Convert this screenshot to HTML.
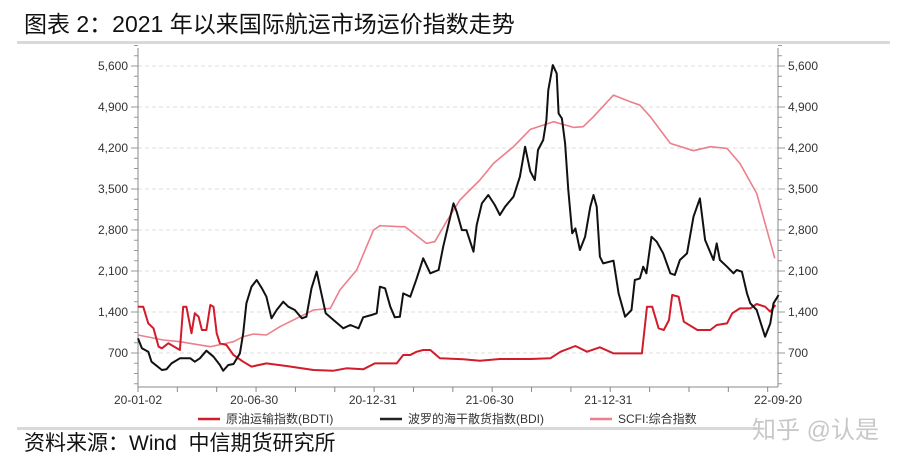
<!DOCTYPE html>
<html><head><meta charset="utf-8">
<style>
html,body{margin:0;padding:0;background:#fff;width:915px;height:468px;overflow:hidden;}
body{font-family:"Liberation Sans","Noto Sans CJK SC",sans-serif;position:relative;}
.title{position:absolute;left:24px;top:5px;font-size:23px;color:#111;font-family:"Liberation Sans","Noto Sans CJK SC",sans-serif;letter-spacing:0px;}
.rule{position:absolute;left:17px;width:873px;height:3px;background:#d9d9d9;}
.foot{position:absolute;left:24px;top:427px;font-size:21px;color:#111;}
.wm{position:absolute;left:752px;top:410px;font-size:24px;color:#c8c8c8;}
svg{position:absolute;left:0;top:0;}
</style></head><body>
<div class="title">图表 2：2021 年以来国际航运市场运价指数走势</div>
<div class="rule" style="top:41px"></div>
<div class="rule" style="top:427px;width:740px"></div>
<svg id="chart" width="915" height="468"></svg>
<div class="foot">资料来源：Wind&nbsp; 中信期货研究所</div>
<div class="wm">知乎 @认是</div>
<script>
const yTicks=[700,1400,2100,2800,3500,4200,4900,5600];
const yTickLabels=["700","1,400","2,100","2,800","3,500","4,200","4,900","5,600"];
const xTickDays=[0,180,364,545,729,992];
const xTickLabels=["20-01-02","20-06-30","20-12-31","21-06-30","21-12-31","22-09-20"];
const bdiDays=[0,6,16,21,37,44,52,65,81,88,96,106,117,127,132,140,148,158,163,168,176,184,192,199,207,215,225,233,243,254,261,269,277,282,291,303,318,329,342,349,362,370,375,383,391,398,406,411,422,432,442,453,466,473,489,494,502,509,520,525,533,543,553,561,569,582,592,600,608,615,620,628,633,636,643,649,652,657,662,667,673,678,685,693,701,706,711,716,721,737,745,755,765,770,778,783,788,796,804,814,825,832,840,851,861,871,879,892,897,902,913,923,928,936,944,949,959,967,972,980,985,993];
const bdiValues=[950,780,723,552,410,421,523,609,609,552,609,740,637,495,398,495,512,694,1036,1548,1832,1946,1804,1661,1292,1434,1576,1491,1434,1292,1320,1804,2088,1832,1377,1263,1121,1178,1121,1309,1349,1377,1832,1804,1491,1309,1320,1718,1661,1974,2316,2060,2117,2515,3255,3112,2799,2799,2430,2885,3255,3397,3226,3056,3198,3368,3710,4222,3800,3653,4165,4336,4677,5189,5616,5474,4791,4706,4279,3482,2743,2828,2458,2686,3198,3397,3198,2344,2230,2276,1718,1320,1434,1946,1974,2174,2060,2686,2600,2401,2060,2031,2287,2401,3027,3340,2629,2287,2572,2287,2174,2060,2117,2088,1718,1548,1434,1149,979,1206,1548,1690];
const scfiDays=[0,39,65,112,132,148,163,179,199,220,246,272,298,313,339,365,375,406,414,427,447,460,478,499,530,551,582,608,644,675,690,706,737,763,778,794,825,861,887,913,933,959,987];
const scfiValues=[1007,922,893,808,854,893,979,1024,1007,1149,1292,1434,1462,1775,2117,2799,2873,2856,2856,2743,2572,2600,2942,3312,3653,3937,4222,4518,4649,4552,4563,4734,5104,4990,4933,4734,4279,4154,4222,4194,3937,3425,2316];
const bdtiDays=[0,8,16,24,32,37,47,65,70,75,83,88,94,99,106,112,117,122,127,137,148,163,176,199,230,272,303,323,349,367,401,411,422,432,442,453,468,504,530,561,608,639,655,678,696,716,737,781,789,797,807,815,823,828,838,846,867,887,897,913,921,933,949,959,972,980,988];
const bdtiValues=[1491,1491,1206,1121,808,780,865,751,1491,1491,1036,1377,1320,1092,1092,1519,1491,1036,865,836,666,552,467,523,478,410,398,438,421,523,523,666,666,723,751,751,609,592,569,597,597,609,723,819,723,797,694,694,1491,1491,1121,1092,1263,1690,1661,1235,1092,1092,1178,1206,1377,1462,1462,1536,1491,1405,1519];

const svg=document.getElementById('chart');
const NS='http://www.w3.org/2000/svg';
const X0=138,X1=778,Y0=394,PXPER=41/700,DMAX=992;
const xs=d=>X0+d*(X1-X0)/DMAX;
const ys=v=>Y0-v*PXPER;
function mk(tag,attrs){const e=document.createElementNS(NS,tag);for(const k in attrs)e.setAttribute(k,attrs[k]);svg.appendChild(e);return e;}
yTicks.forEach((t,i)=>{
  const g=mk('line',{x1:X0,x2:X1,y1:ys(t),y2:ys(t),stroke:'#dcdcdc','stroke-dasharray':'4,3','stroke-width':1});
  
  
  const l=mk('text',{x:X0-10,y:ys(t)+4,'text-anchor':'end','font-size':12,fill:'#333','font-family':'Liberation Sans, sans-serif'});
  l.textContent=yTickLabels[i];
  
  
  const r=mk('text',{x:X1+10,y:ys(t)+4,'text-anchor':'start','font-size':12,fill:'#333','font-family':'Liberation Sans, sans-serif'});
  r.textContent=yTickLabels[i];
  
  
});
for(let v=175;v<=5950;v+=175){
  const major=v%700===0;
  mk('line',{x1:X0-(major?7:4),x2:X0,y1:ys(v),y2:ys(v),stroke:'#999'});
  mk('line',{x1:X1,x2:X1+(major?7:4),y1:ys(v),y2:ys(v),stroke:'#999'});
}
const la=mk('line',{x1:X0,x2:X0,y1:48,y2:387,stroke:'#888'});


const ra=mk('line',{x1:X1,x2:X1,y1:48,y2:387,stroke:'#888'});


const xa=mk('line',{x1:X0,x2:X1,y1:387,y2:387,stroke:'#888'});


for(let d=0;d<=DMAX;d+=30.5*2){mk('line',{x1:xs(d),x2:xs(d),y1:387,y2:392,stroke:'#888'});}
xTickDays.forEach((d,i)=>{
  const t=mk('text',{x:xs(d),y:404,'text-anchor':'middle','font-size':12,fill:'#333','font-family':'Liberation Sans, sans-serif'});
  t.textContent=xTickLabels[i];
  
  
});
function series(days,vals,color,w,name){
  const p=days.map((d,i)=>(i?'L':'M')+xs(d).toFixed(1)+','+ys(vals[i]).toFixed(1)).join('');
  const e=mk('path',{d:p,fill:'none',stroke:color,'stroke-width':w,'stroke-linejoin':'round'});
  
  
}
series(scfiDays,scfiValues,'#ec7f8c',1.6,'scfi-line');
series(bdtiDays,bdtiValues,'#d01c2b',2,'bdti-line');
series(bdiDays,bdiValues,'#111',2,'bdi-line');
const leg=[['#d01c2b','原油运输指数(BDTI)',198],['#222','波罗的海干散货指数(BDI)',380],['#ec7f8c','SCFI:综合指数',590]];
leg.forEach(([c,t,x])=>{
  const s=mk('line',{x1:x,x2:x+22,y1:419,y2:419,stroke:c,'stroke-width':2.5});
  
  
  const tx=mk('text',{x:x+28,y:423,'font-size':12,fill:'#333','font-family':'Liberation Sans, Noto Sans CJK SC, sans-serif'});
  tx.textContent=t;
  
  
});
</script>
</body></html>
